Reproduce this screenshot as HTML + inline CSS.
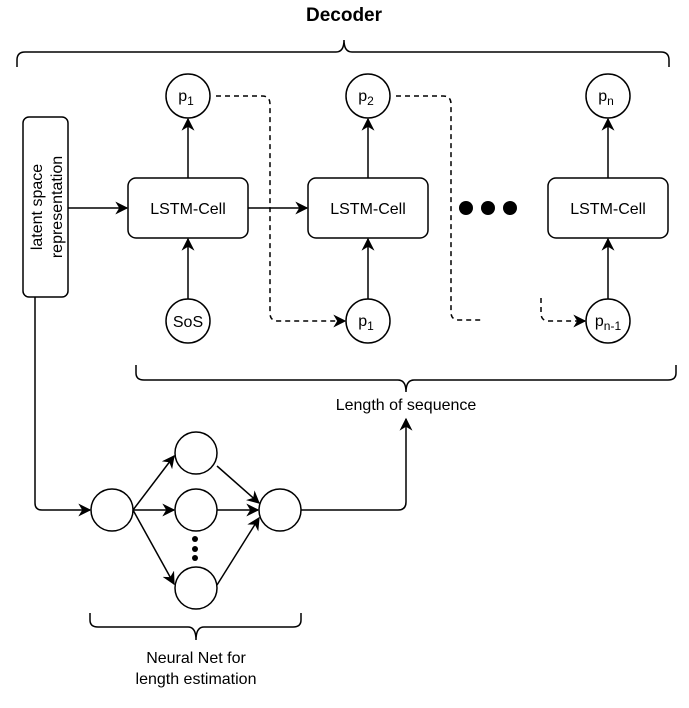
<!DOCTYPE html>
<html><head><style>
body{margin:0;background:#fff;}
svg text{font-family:"Liberation Sans",sans-serif;}
</style></head><body>
<svg width="689" height="703" viewBox="0 0 689 703" xmlns="http://www.w3.org/2000/svg">
<defs>
<marker id="a" viewBox="0 0 10 10" refX="9" refY="5" markerWidth="13" markerHeight="13" orient="auto" markerUnits="userSpaceOnUse">
<path d="M0,0 L10,5 L0,10 L3,5 z" fill="#000"/></marker>
</defs>
<g fill="none" stroke="#000" stroke-width="1.5">
<path d="M17,67 V60 Q17,52 25,52 H336 Q344,52 344,40 Q344,52 352,52 H661 Q669,52 669,60 V67"/>
<path d="M136,365 V373 Q136,380 144,380 H398 Q406,380 406,392 Q406,380 414,380 H668 Q676,380 676,373 V365"/>
<path d="M90,613 V620 Q90,627 98,627 H188 Q196,627 196,640 Q196,627 204,627 H293 Q301,627 301,620 V613"/>
<rect x="23" y="117" width="45" height="180" rx="6" fill="#fff"/>
<rect x="128" y="178" width="120" height="60" rx="8" fill="#fff"/>
<rect x="308" y="178" width="120" height="60" rx="8" fill="#fff"/>
<rect x="548" y="178" width="120" height="60" rx="8" fill="#fff"/>
<circle cx="188" cy="96" r="22"/><circle cx="368" cy="96" r="22"/><circle cx="608" cy="96" r="22"/>
<circle cx="188" cy="321" r="22"/><circle cx="368" cy="321" r="22"/><circle cx="608" cy="321" r="22"/>
<circle cx="112" cy="510" r="21"/><circle cx="196" cy="453" r="21"/><circle cx="196" cy="510" r="21"/><circle cx="196" cy="588" r="21"/><circle cx="280" cy="510" r="21"/>
<path d="M68,208 H127" marker-end="url(#a)"/>
<path d="M248,208 H307" marker-end="url(#a)"/>
<path d="M188,178 V119" marker-end="url(#a)"/>
<path d="M368,178 V119" marker-end="url(#a)"/>
<path d="M608,178 V119" marker-end="url(#a)"/>
<path d="M188,299 V239" marker-end="url(#a)"/>
<path d="M368,299 V239" marker-end="url(#a)"/>
<path d="M608,299 V239" marker-end="url(#a)"/>
<path d="M216,96 H262 Q270,96 270,104 V313 Q270,321 278,321 H345" stroke-dasharray="5,4" marker-end="url(#a)"/>
<path d="M396,96 H443 Q451,96 451,104 V312 Q451,320 459,320 H482" stroke-dasharray="5,4"/>
<path d="M541,298 V313 Q541,321 549,321 H585" stroke-dasharray="5,4" marker-end="url(#a)"/>
<path d="M35,297 V503 Q35,510 42,510 H90" marker-end="url(#a)"/>
<path d="M133,510 L174,456" marker-end="url(#a)"/>
<path d="M133,510 H174" marker-end="url(#a)"/>
<path d="M133,510 L174,584" marker-end="url(#a)"/>
<path d="M217,466 L259,503" marker-end="url(#a)"/>
<path d="M217,510 H258" marker-end="url(#a)"/>
<path d="M217,585 L259,518" marker-end="url(#a)"/>
<path d="M301,510 H398 Q406,510 406,502 V419" marker-end="url(#a)"/>
</g>
<g fill="#000">
<circle cx="466" cy="208" r="7"/><circle cx="488" cy="208" r="7"/><circle cx="510" cy="208" r="7"/>
<circle cx="195" cy="539" r="3"/><circle cx="195" cy="549" r="3"/><circle cx="195" cy="558" r="3"/>
</g>
<text x="344" y="21" font-size="19" font-weight="bold" text-anchor="middle">Decoder</text>
<g font-size="16" text-anchor="middle">
<text x="188" y="214">LSTM-Cell</text><text x="368" y="214">LSTM-Cell</text><text x="608" y="214">LSTM-Cell</text>
<text x="188" y="327">SoS</text>
<text x="186" y="101">p<tspan font-size="12" dy="4">1</tspan></text>
<text x="366" y="101">p<tspan font-size="12" dy="4">2</tspan></text>
<text x="606" y="101">p<tspan font-size="12" dy="4">n</tspan></text>
<text x="366" y="326">p<tspan font-size="12" dy="4">1</tspan></text>
<text x="608" y="326">p<tspan font-size="12" dy="4">n-1</tspan></text>
<text x="406" y="410">Length of sequence</text>
<text x="196" y="663">Neural Net for</text>
<text x="196" y="684">length estimation</text>
<text transform="translate(42,207) rotate(-90)">latent space</text>
<text transform="translate(62,207) rotate(-90)">representation</text>
</g>
</svg>
</body></html>
